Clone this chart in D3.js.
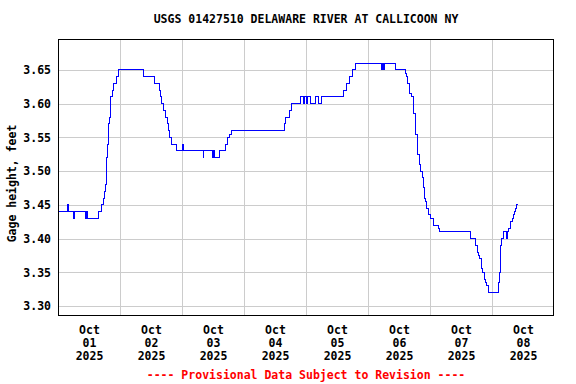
<!DOCTYPE html>
<html><head><meta charset="utf-8">
<script src="https://cdn.jsdelivr.net/npm/d3@7"></script>
<style>
html,body{margin:0;padding:0;background:#fff;}
svg{display:block;}
text{font-family:"DejaVu Sans Mono",monospace;font-weight:bold;font-size:11.5px;fill:#000;}
</style></head><body>
<svg id="c" width="576" height="384"></svg>
<script>
const title = "USGS 01427510 DELAWARE RIVER AT CALLICOON NY";
const yTitle = "Gage height, feet";
const footer = "---- Provisional Data Subject to Revision ----";
const yTicks = [3.30, 3.35, 3.40, 3.45, 3.50, 3.55, 3.60, 3.65];
const dayLabels = ["2025-10-01","2025-10-02","2025-10-03","2025-10-04","2025-10-05","2025-10-06","2025-10-07","2025-10-08"];
const xStart = "2025-10-01 00:00", xEnd = "2025-10-09 00:00";

const times = [
"2025-10-01 00:00","2025-10-01 03:45","2025-10-01 04:00","2025-10-01 06:00","2025-10-01 06:15",
"2025-10-01 10:45","2025-10-01 11:00","2025-10-01 11:30","2025-10-01 15:45","2025-10-01 17:00",
"2025-10-01 17:30","2025-10-01 18:00","2025-10-01 18:15","2025-10-01 18:45","2025-10-01 19:00",
"2025-10-01 19:30","2025-10-01 19:45","2025-10-01 20:15","2025-10-01 20:30","2025-10-01 21:00",
"2025-10-01 21:30","2025-10-01 22:45","2025-10-01 23:30",
"2025-10-02 09:00","2025-10-02 13:30","2025-10-02 15:15","2025-10-02 15:45","2025-10-02 16:15",
"2025-10-02 17:00","2025-10-02 17:30","2025-10-02 17:45","2025-10-02 18:15","2025-10-02 18:45",
"2025-10-02 19:15","2025-10-02 19:45","2025-10-02 22:00",
"2025-10-03 00:00","2025-10-03 00:30","2025-10-03 08:15","2025-10-03 08:30","2025-10-03 11:45",
"2025-10-03 12:00","2025-10-03 12:30","2025-10-03 14:30","2025-10-03 16:45","2025-10-03 17:30",
"2025-10-03 18:15","2025-10-03 19:00",
"2025-10-04 15:30","2025-10-04 16:15","2025-10-04 17:30","2025-10-04 18:30","2025-10-04 22:00",
"2025-10-04 23:00","2025-10-04 23:15",
"2025-10-05 00:15","2025-10-05 00:45","2025-10-05 01:45","2025-10-05 03:30","2025-10-05 04:45",
"2025-10-05 06:00","2025-10-05 14:30","2025-10-05 15:30","2025-10-05 16:45","2025-10-05 18:00",
"2025-10-05 19:15",
"2025-10-06 05:15","2025-10-06 05:30","2025-10-06 06:00","2025-10-06 06:15","2025-10-06 10:45",
"2025-10-06 14:30","2025-10-06 15:00","2025-10-06 15:15","2025-10-06 16:00","2025-10-06 16:15",
"2025-10-06 17:00","2025-10-06 17:30","2025-10-06 17:45","2025-10-06 18:15","2025-10-06 18:30",
"2025-10-06 19:00","2025-10-06 19:15","2025-10-06 19:45","2025-10-06 20:00","2025-10-06 20:30",
"2025-10-06 21:00","2025-10-06 21:30","2025-10-06 21:45","2025-10-06 22:15","2025-10-06 22:45",
"2025-10-06 23:15","2025-10-06 23:30",
"2025-10-07 00:00","2025-10-07 01:15","2025-10-07 03:15","2025-10-07 03:30","2025-10-07 15:30",
"2025-10-07 15:45","2025-10-07 17:30","2025-10-07 18:15","2025-10-07 18:45","2025-10-07 19:15",
"2025-10-07 19:45","2025-10-07 20:00","2025-10-07 20:30","2025-10-07 21:00","2025-10-07 21:30",
"2025-10-07 22:00","2025-10-07 22:30",
"2025-10-08 02:30","2025-10-08 03:00","2025-10-08 03:15","2025-10-08 03:45","2025-10-08 04:30",
"2025-10-08 05:45","2025-10-08 06:00","2025-10-08 06:30","2025-10-08 07:00","2025-10-08 07:15",
"2025-10-08 07:45","2025-10-08 08:15","2025-10-08 08:45","2025-10-08 09:15","2025-10-08 09:30",
"2025-10-08 10:00"
];
const gage = [
3.44,3.45,3.44,3.43,3.44,
3.43,3.44,3.43,3.44,3.45,
3.46,3.47,3.48,3.52,3.54,
3.57,3.58,3.60,3.61,3.62,
3.63,3.64,3.65,
3.64,3.63,3.62,3.61,3.60,
3.59,3.585,3.58,3.57,3.56,
3.55,3.54,3.53,
3.54,3.53,3.52,3.53,3.52,
3.53,3.52,3.53,3.54,3.55,
3.555,3.56,
3.57,3.58,3.59,3.60,3.61,
3.60,3.61,
3.60,3.61,3.60,3.61,3.60,
3.61,3.62,3.63,3.64,3.65,
3.66,
3.65,3.66,3.65,3.66,3.65,
3.645,3.64,3.63,3.62,3.615,
3.61,3.595,3.585,3.57,3.555,
3.54,3.525,3.52,3.51,3.50,
3.49,3.475,3.46,3.455,3.445,
3.44,3.435,
3.43,3.42,3.415,3.41,3.405,
3.40,3.39,3.38,3.375,3.37,
3.36,3.355,3.35,3.34,3.335,
3.33,3.32,
3.335,3.35,3.39,3.40,3.41,
3.40,3.41,3.415,3.42,3.425,
3.43,3.435,3.44,3.445,3.45,
3.45
];

const parse = d3.timeParse("%Y-%m-%d %H:%M");
const parseDay = d3.timeParse("%Y-%m-%d");
const data = times.map((t, i) => ({t: parse(t), v: gage[i]}));

const L = 58, R = 554, T = 39, B = 316;
const svg = d3.select("#c");

const x = d3.scaleTime().domain([parse(xStart), parse(xEnd)]).range([L, R]);
const y = d3.scaleLinear().domain([3.2853, 3.6958]).range([B, T]);

// grid lines
const midnights = d3.timeDay.range(d3.timeDay.offset(parse(xStart), 1), parse(xEnd));
svg.append("g").attr("transform", `translate(0,${B})`)
  .call(d3.axisBottom(x).tickValues(midnights).tickSize(-(B - T)).tickFormat(""))
  .call(g => g.select(".domain").remove())
  .call(g => g.selectAll("line").attr("stroke", "#cccccc").attr("shape-rendering", "crispEdges"));
svg.append("g").attr("transform", `translate(${L},0)`)
  .call(d3.axisLeft(y).tickValues(yTicks).tickSize(-(R - L)).tickFormat(d3.format(".2f")).tickPadding(7))
  .call(g => g.select(".domain").remove())
  .call(g => g.selectAll("line").attr("stroke", "#cccccc").attr("shape-rendering", "crispEdges"))
  .call(g => g.selectAll("text").attr("font-family", null).attr("font-size", null).attr("fill", "#000"));

// x labels at noon
const noons = dayLabels.map(d => d3.timeHour.offset(parseDay(d), 12));
const fmtM = d3.timeFormat("%b"), fmtD = d3.timeFormat("%d"), fmtY = d3.timeFormat("%Y");
const xa = svg.append("g").attr("transform", `translate(0,${B})`)
  .call(d3.axisBottom(x).tickValues(noons).tickSize(0).tickFormat(""))
  .call(g => g.select(".domain").remove());
xa.selectAll(".tick").each(function(d) {
  const t = d3.select(this).append("text").attr("text-anchor", "middle").attr("y", 18);
  t.append("tspan").attr("x", 0).attr("dy", 0).text(fmtM(d));
  t.append("tspan").attr("x", 0).attr("dy", 13).text(fmtD(d));
  t.append("tspan").attr("x", 0).attr("dy", 13).text(fmtY(d));
});

// data line
svg.append("path").datum(data)
  .attr("fill", "none").attr("stroke", "#0000ff").attr("stroke-width", 1)
  .attr("shape-rendering", "crispEdges")
  .attr("d", d3.line().x(d => x(d.t)).y(d => y(d.v)).curve(d3.curveStepAfter));

// frame
svg.append("rect").attr("x", L + 0.5).attr("y", T + 0.5).attr("width", R - L - 1).attr("height", B - T - 1)
  .attr("fill", "none").attr("stroke", "#000").attr("stroke-width", 1);

svg.append("text").attr("x", (L + R) / 2).attr("y", 23).attr("text-anchor", "middle").text(title);
svg.append("text").attr("transform", `translate(16,${(T + B) / 2 + 6}) rotate(-90)`).attr("text-anchor", "middle").text(yTitle);
svg.append("text").attr("x", (L + R) / 2).attr("y", 379).attr("text-anchor", "middle").style("fill", "#ff0000").text(footer);
</script>
</body></html>
